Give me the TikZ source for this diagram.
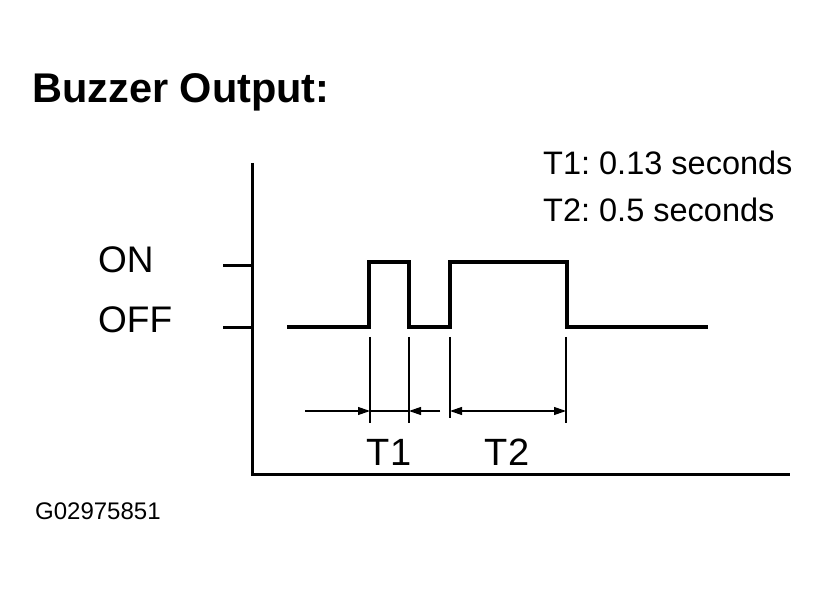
\documentclass[tikz,border=0pt]{standalone}
\usepackage{fontspec}
\setmainfont{Liberation Sans}
\usetikzlibrary{arrows.meta}
\frenchspacing
\begin{document}
\begin{tikzpicture}[x=1pt,y=-1pt,
  txt/.style={inner sep=0pt,anchor=base west},
  axis/.style={line width=3pt},
  wave/.style={line width=4.5pt,line join=miter},
  dimline/.style={line width=1.2pt},
  dimarrow/.style={line width=1.2pt,-{Triangle[length=12pt,width=8pt]}},
  dimboth/.style={line width=1.2pt,{Triangle[length=12pt,width=8pt]}-{Triangle[length=12pt,width=8pt]}}]
\useasboundingbox (0,0) rectangle (831,596);
% title
\node[txt,font=\fontsize{41.5}{48}\selectfont\bfseries] (title) at (32,103) {Buzzer Output:};
% legend
\node[txt,font=\fontsize{32.5}{38}\selectfont] (leg1) at (543,175) {T1: 0.13 seconds};
\node[txt,font=\fontsize{32.5}{38}\selectfont] (leg2) at (543,222) {T2: 0.5 seconds};
% axes
\coordinate (ytop) at (252,163);
\coordinate (origin) at (252,474);
\coordinate (xend) at (790,474);
\draw[axis] (ytop) -- (origin) -- (xend);
\coordinate (ontick) at (223,266);
\coordinate (offtick) at (223,328);
\draw[axis] (ontick) -- (252,266);
\draw[axis] (offtick) -- (252,328);
\node[txt,font=\fontsize{37}{44}\selectfont] (on) at (98,273) {ON};
\node[txt,font=\fontsize{37}{44}\selectfont] (off) at (98,333) {OFF};
% waveform
\coordinate (w0) at (287,327);
\coordinate (w7) at (708,327);
\draw[wave] (w0) -- (369,327) -- (369,262) -- (409,262) -- (409,327) -- (450,327) -- (450,262) -- (567,262) -- (567,327) -- (w7);
% dimension lines
\coordinate (d1t) at (370,337); \coordinate (d1b) at (370,423);
\coordinate (d2t) at (409,337); \coordinate (d2b) at (409,423);
\coordinate (d3t) at (450,337); \coordinate (d3b) at (450,418);
\coordinate (d4t) at (566,337); \coordinate (d4b) at (566,423);
\draw[dimline] (d1t) -- (d1b);
\draw[dimline] (d2t) -- (d2b);
\draw[dimline] (d3t) -- (d3b);
\draw[dimline] (d4t) -- (d4b);
\coordinate (a1s) at (305,411); \coordinate (a1e) at (370,411);
\coordinate (a2s) at (440,411); \coordinate (a2e) at (409,411);
\coordinate (a3s) at (450,411); \coordinate (a3e) at (566,411);
\draw[dimarrow] (a1s) -- (a1e);
\draw[dimline] (a1e) -- (a2e);
\draw[dimarrow] (a2s) -- (a2e);
\draw[dimboth] (a3s) -- (a3e);
\node[inner sep=0pt,anchor=base,font=\fontsize{38}{44}\selectfont] (t1) at (389,465) {T1};
\node[inner sep=0pt,anchor=base,font=\fontsize{38}{44}\selectfont] (t2) at (507,465) {T2};
% figure code
\node[txt,font=\fontsize{24}{28}\selectfont] (code) at (35,519) {G02975851};
\end{tikzpicture}
\end{document}
